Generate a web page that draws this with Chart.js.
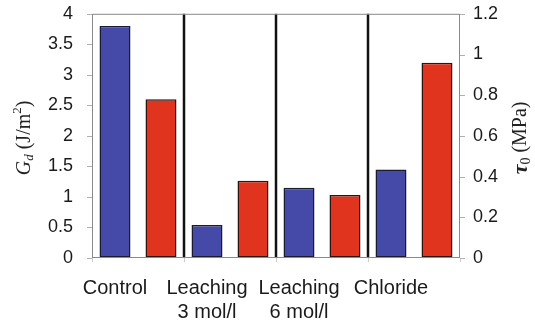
<!DOCTYPE html>
<html>
<head>
<meta charset="utf-8">
<script src="https://cdn.jsdelivr.net/npm/chart.js@4/dist/chart.umd.min.js"></script>
<style>
  html, body { margin: 0; padding: 0; background: #fff; }
  #wrap { width: 535px; height: 328px; }
</style>
</head>
<body>
<div id="wrap"><canvas id="c" width="535" height="328"></canvas></div>
<script>
// Treatments along the x axis (two-line labels where needed)
const categories = [['Control'], ['Leaching', '3 mol/l'], ['Leaching', '6 mol/l'], ['Chloride']];
// Fracture energy G_d in J/m² (left axis)
const gdValues = [3.80, 0.54, 1.15, 1.45];
// Interfacial shear strength tau_0 in MPa (right axis)
const tauValues = [0.78, 0.38, 0.31, 0.96];
// Tick labels of both axes
const gdTicks = ['0', '0.5', '1', '1.5', '2', '2.5', '3', '3.5', '4'];
const tauTicks = ['0', '0.2', '0.4', '0.6', '0.8', '1', '1.2'];

const sans = '"Liberation Sans", Arial, sans-serif';
const serif = '"Liberation Serif", "Times New Roman", serif';

// Draws a rotated, rich-text axis title made of segments
function drawRichVertical(ctx, cx, cy, segs) {
  ctx.save();
  ctx.translate(cx, cy);
  ctx.rotate(-Math.PI / 2);
  let total = 0;
  segs.forEach(s => { ctx.font = s.font; s.w = ctx.measureText(s.text).width; total += s.w; });
  let x = -total / 2;
  ctx.fillStyle = '#222';
  ctx.textBaseline = 'middle';
  ctx.textAlign = 'left';
  segs.forEach(s => {
    ctx.font = s.font;
    ctx.fillText(s.text, x, s.dy || 0);
    x += s.w;
  });
  ctx.restore();
}

const framePlugin = {
  id: 'frame',
  afterDatasetsDraw(chart) {
    const { ctx, chartArea: a, scales } = chart;
    ctx.save();
    // short outward tick marks on both value axes
    ctx.strokeStyle = '#b0b0b0';
    ctx.lineWidth = 1;
    scales.y.ticks.forEach(t => {
      const yp = Math.round(scales.y.getPixelForValue(t.value)) + 0.5;
      ctx.beginPath(); ctx.moveTo(a.left - 5, yp); ctx.lineTo(a.left, yp); ctx.stroke();
    });
    scales.y1.ticks.forEach(t => {
      const yp = Math.round(scales.y1.getPixelForValue(t.value)) + 0.5;
      ctx.beginPath(); ctx.moveTo(a.right, yp); ctx.lineTo(a.right + 5, yp); ctx.stroke();
    });
    // category separators
    ctx.strokeStyle = '#111';
    ctx.lineWidth = 2.5;
    for (let i = 0; i < categories.length - 1; i++) {
      const xp = (scales.x.getPixelForValue(i) + scales.x.getPixelForValue(i + 1)) / 2;
      ctx.beginPath();
      ctx.moveTo(xp, a.top);
      ctx.lineTo(xp, a.bottom);
      ctx.stroke();
    }
    // plot frame
    ctx.strokeStyle = '#8a8a8a';
    ctx.lineWidth = 1;
    ctx.strokeRect(a.left + 0.5, a.top + 0.5, a.right - a.left - 1, a.bottom - a.top - 1);
    ctx.restore();
  },
  afterDraw(chart) {
    const { ctx, chartArea: a } = chart;
    const cy = (a.top + a.bottom) / 2 + 2;
    drawRichVertical(ctx, 25, cy, [
      { text: 'G', font: 'italic 20px ' + serif },
      { text: 'd', font: 'italic 13px ' + serif, dy: 5 },
      { text: ' (J/m', font: '20px ' + serif },
      { text: '2', font: '13px ' + serif, dy: -7 },
      { text: ')', font: '20px ' + serif }
    ]);
    drawRichVertical(ctx, 521, cy, [
      { text: 'τ', font: 'italic bold 22px ' + serif },
      { text: '0', font: '14px ' + serif, dy: 5 },
      { text: ' (MPa)', font: '20px ' + serif }
    ]);
  }
};

new Chart(document.getElementById('c'), {
  type: 'bar',
  data: {
    labels: categories,
    datasets: [
      {
        label: 'Gd',
        data: gdValues,
        yAxisID: 'y',
        backgroundColor: '#4549a8',
        borderColor: '#1c1c30',
        borderWidth: 1.5,
        borderSkipped: false,
        categoryPercentage: 1.0,
        barPercentage: 0.674
      },
      {
        label: 'tau0',
        data: tauValues,
        yAxisID: 'y1',
        backgroundColor: '#e0341f',
        borderColor: '#2a1510',
        borderWidth: 1.5,
        borderSkipped: false,
        categoryPercentage: 1.0,
        barPercentage: 0.674
      }
    ]
  },
  options: {
    responsive: false,
    animation: false,
    devicePixelRatio: 1,
    layout: { padding: { top: 0, bottom: 0, left: 0, right: 0 } },
    plugins: { legend: { display: false }, tooltip: { enabled: false } },
    scales: {
      x: {
        grid: { display: true, drawOnChartArea: false, drawTicks: true, tickLength: 4, color: '#cccccc' },
        border: { display: false },
        ticks: {
          font: { family: sans, size: 20 },
          color: '#1a1a1a',
          padding: 14,
          labelOffset: -23,
          maxRotation: 0,
          autoSkip: false
        },
        afterFit(s) { s.height = 70; }
      },
      y: {
        position: 'left',
        min: 0, max: 4,
        grid: { drawOnChartArea: false, drawTicks: true, tickLength: 16, color: 'rgba(0,0,0,0)' },
        border: { display: false },
        ticks: {
          stepSize: 0.5,
          font: { family: sans, size: 18 },
          color: '#1a1a1a',
          padding: 3,
          callback: (v, i) => gdTicks[i]
        },
        afterFit(s) { s.width = 92; }
      },
      y1: {
        position: 'right',
        min: 0, max: 1.2,
        grid: { drawOnChartArea: false, drawTicks: true, tickLength: 10, color: 'rgba(0,0,0,0)' },
        border: { display: false },
        ticks: {
          stepSize: 0.2,
          font: { family: sans, size: 18 },
          color: '#1a1a1a',
          padding: 3,
          callback: (v, i) => tauTicks[i]
        },
        afterFit(s) { s.width = 75; }
      }
    }
  },
  plugins: [framePlugin]
});
</script>
</body>
</html>
